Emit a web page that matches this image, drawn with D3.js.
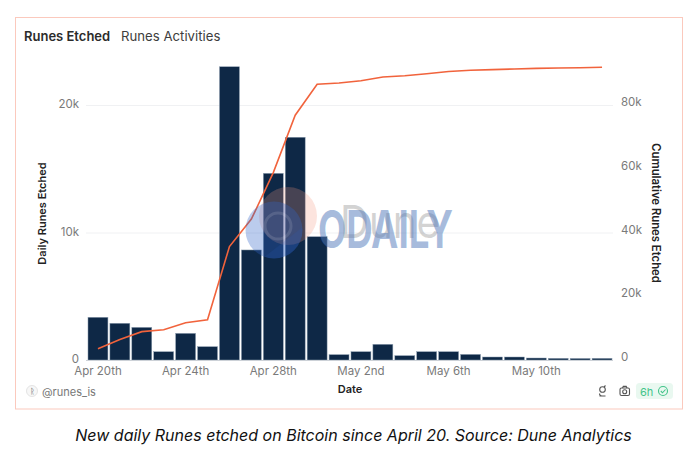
<!DOCTYPE html>
<html>
<head>
<meta charset="utf-8">
<script src="https://cdn.jsdelivr.net/npm/d3@7"></script>
<style>
	html, body { margin: 0; padding: 0; background: #fff; }
	svg { display: block; }
	text { font-family: Inter, "Noto Sans", sans-serif; }
</style>
</head>
<body>
<svg id="chart" width="698" height="460"></svg>
<script>
// values
var days = ["Apr 20th","Apr 21st","Apr 22nd","Apr 23rd","Apr 24th","Apr 25th","Apr 26th","Apr 27th",
	"Apr 28th","Apr 29th","Apr 30th","May 1st","May 2nd","May 3rd","May 4th","May 5th",
	"May 6th","May 7th","May 8th","May 9th","May 10th","May 11th","May 12th","May 13th"];
var dailyEtched = [3350,2880,2560,650,2090,1045,23000,8630,14640,17470,9670,420,650,1230,340,650,650,440,235,235,155,130,120,130];
var cumulativeEtched = [3500,6400,8900,9500,11700,12600,35600,44200,58800,76800,86500,86900,87600,88800,89200,89800,90500,90900,91100,91300,91500,91600,91700,91850];
var dailyTicks = [0,10000,20000];
var cumulativeTicks = [0,20000,40000,60000,80000];
var dateTicks = ["Apr 20th","Apr 24th","Apr 28th","May 2nd","May 6th","May 10th"];

var svg = d3.select("#chart");

// ======================================== CARD
svg.append("rect").attr("x", 15.5).attr("y", 17.5).attr("width", 667).attr("height", 391.5)
	.attr("fill", "#fff").attr("stroke", "#fbc9bd").attr("stroke-width", 1);

svg.append("text").attr("x", 24).attr("y", 40.5).attr("font-size", 13).attr("font-weight", 600)
	.attr("fill", "#2b2b2b").text("Runes Etched");
svg.append("text").attr("x", 121).attr("y", 40.5).attr("font-size", 13.2)
	.attr("fill", "#3d3d3d").text("Runes Activities");

// ======================================== SCALES
var x = d3.scaleBand().domain(days).range([87, 613]).paddingInner(0.09).paddingOuter(0.045);
var yLeft = d3.scaleLinear().domain([0, 20000]).range([360, 105]);
var yRight = d3.scaleLinear().domain([0, 80000]).range([360, 105]);

// gridlines under the bars
svg.append("g").selectAll("line").data(dailyTicks.slice(1)).enter().append("line")
	.attr("x1", 86).attr("x2", 613)
	.attr("y1", function(d){ return yLeft(d) + 0.5; })
	.attr("y2", function(d){ return yLeft(d) + 0.5; })
	.attr("stroke", "#f0f1f3");

// ======================================== BARS
svg.append("g").selectAll("rect").data(dailyEtched).enter().append("rect")
	.attr("x", function(d, i){ return x(days[i]); })
	.attr("width", x.bandwidth())
	.attr("y", function(d){ return yLeft(d); })
	.attr("height", function(d){ return 360 - yLeft(d); })
	.attr("fill", "#0e2846")
	.attr("stroke", "#8fa0b2").attr("stroke-width", 0.5);

// ======================================== LINE
var line = d3.line()
	.x(function(d, i){ return x(days[i]) + x.bandwidth() / 2; })
	.y(function(d){ return yRight(d); });
svg.append("path").datum(cumulativeEtched)
	.attr("d", line).attr("fill", "none")
	.attr("stroke", "#f1633c").attr("stroke-width", 1.6);

// ======================================== AXES
var axisBottom = d3.axisBottom(x).tickValues(dateTicks).tickSize(0).tickPadding(7);
var gBottom = svg.append("g").attr("transform", "translate(0,360)").call(axisBottom);
gBottom.select(".domain").attr("stroke", "#ccd1d7").attr("d", "M86,0.5H613");
gBottom.selectAll("text").attr("fill", "#7a7a7a").attr("font-size", 11.5)
	.attr("font-family", "Inter, sans-serif");

var axisLeft = d3.axisLeft(yLeft).tickValues(dailyTicks).tickSize(0).tickPadding(7)
	.tickFormat(function(d){ return d == 0 ? "0" : (d / 1000) + "k"; });
var gLeft = svg.append("g").attr("transform", "translate(86,-1)").call(axisLeft);
gLeft.select(".domain").remove();
gLeft.selectAll("text").attr("fill", "#7a7a7a").attr("font-size", 11.5)
	.attr("font-family", "Inter, sans-serif");

var axisRight = d3.axisRight(yRight).tickValues(cumulativeTicks).tickSize(0).tickPadding(8)
	.tickFormat(function(d){ return d == 0 ? "0" : (d / 1000) + "k"; });
var gRight = svg.append("g").attr("transform", "translate(613,-3)").call(axisRight);
gRight.select(".domain").remove();
gRight.selectAll("text").attr("fill", "#7a7a7a").attr("font-size", 11.5)
	.attr("font-family", "Inter, sans-serif");

// axis titles
svg.append("text").attr("transform", "translate(46,213.5) rotate(-90)")
	.attr("text-anchor", "middle").attr("font-size", 11).attr("font-weight", 600)
	.attr("fill", "#222").text("Daily Runes Etched");
svg.append("text").attr("transform", "translate(652,213) rotate(90)")
	.attr("text-anchor", "middle").attr("font-size", 11.3).attr("font-weight", 600)
	.attr("fill", "#222").text("Cumulative Runes Etched");
svg.append("text").attr("x", 350).attr("y", 392.5)
	.attr("text-anchor", "middle").attr("font-size", 11).attr("font-weight", 600)
	.attr("fill", "#222").text("Date");

// ======================================== WATERMARK
var mark = svg.append("g");
mark.append("text").attr("x", 340).attr("y", 238).attr("font-size", 45)
	.attr("font-family", "'Liberation Sans', sans-serif").attr("textLength", 100).attr("lengthAdjust", "spacingAndGlyphs")
	.attr("fill", "#8c8c8c").attr("fill-opacity", 0.38).text("Dune");
mark.append("circle").attr("cx", 288).attr("cy", 216).attr("r", 29)
	.attr("fill", "#f2957a").attr("fill-opacity", 0.25);
mark.append("circle").attr("cx", 274).attr("cy", 230).attr("r", 28.5)
	.attr("fill", "#3264c8").attr("fill-opacity", 0.33);
// darker wedge in the lower part of the logo
svg.append("clipPath").attr("id", "logo-clip").append("circle")
	.attr("cx", 274).attr("cy", 230).attr("r", 28.5);
mark.append("path").attr("d", "M258,262L304,226V262Z").attr("clip-path", "url(#logo-clip)")
	.attr("fill", "#2a5cc0").attr("fill-opacity", 0.15);
mark.append("circle").attr("cx", 278).attr("cy", 226).attr("r", 13)
	.attr("fill", "none").attr("stroke", "#fff").attr("stroke-opacity", 0.12).attr("stroke-width", 3);
mark.append("text").attr("x", 318).attr("y", 248).attr("font-size", 52).attr("font-weight", 700)
	.attr("font-family", "'Liberation Sans', sans-serif").attr("textLength", 135).attr("lengthAdjust", "spacingAndGlyphs")
	.attr("fill", "#4f78ba").attr("fill-opacity", 0.5).text("ODAILY");

// ======================================== FOOTER
svg.append("circle").attr("cx", 32).attr("cy", 391).attr("r", 5.5)
	.attr("fill", "#f7f7f7").attr("stroke", "#e4e4e4");
svg.append("text").attr("x", 32).attr("y", 394).attr("text-anchor", "middle")
	.attr("font-size", 8).attr("fill", "#555").text("ᚱ");
svg.append("text").attr("x", 42).attr("y", 396).attr("font-size", 11)
	.attr("fill", "#777").text("@runes_is");

// small user icon
var user = svg.append("g").attr("fill", "none").attr("stroke", "#555").attr("stroke-width", 1.1);
user.append("circle").attr("cx", 602.5).attr("cy", 389.5).attr("r", 2.8);
user.append("path").attr("d", "M599.5,396H605.5M599.5,393.5Q599.5,396 602,396M605.5,385.5L604,387");

// camera icon
var cam = svg.append("g").attr("fill", "none").attr("stroke", "#555").attr("stroke-width", 1.1);
cam.append("rect").attr("x", 620).attr("y", 388).attr("width", 9.5).attr("height", 7.5).attr("rx", 1.5);
cam.append("circle").attr("cx", 624.7).attr("cy", 391.7).attr("r", 2);
cam.append("path").attr("d", "M622.5,388L623.3,386.4H626.2L627,388");

// refresh badge
svg.append("rect").attr("x", 636).attr("y", 383).attr("width", 37).attr("height", 16).attr("rx", 3.5)
	.attr("fill", "#e9f8f0");
svg.append("text").attr("x", 640).attr("y", 395.5).attr("font-size", 11)
	.attr("fill", "#43c48a").text("6h");
svg.append("circle").attr("cx", 663).attr("cy", 391).attr("r", 4.5)
	.attr("fill", "none").attr("stroke", "#43c48a").attr("stroke-width", 1.1);
svg.append("path").attr("d", "M660.8,391L662.5,392.8L665.5,389.5")
	.attr("fill", "none").attr("stroke", "#43c48a").attr("stroke-width", 1.1);

// ======================================== CAPTION
svg.append("text").attr("x", 353.5).attr("y", 441).attr("text-anchor", "middle")
	.attr("font-size", 16).attr("font-style", "italic")
	.attr("font-family", "'Open Sans', sans-serif").attr("fill", "#111")
	.text("New daily Runes etched on Bitcoin since April 20. Source: Dune Analytics");
</script>
</body>
</html>
